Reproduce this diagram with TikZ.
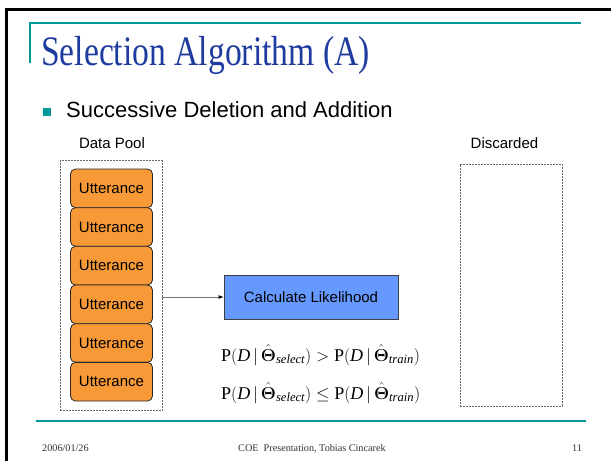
\documentclass[tikz,border=0pt]{standalone}
\usepackage{amsmath}
\usepackage{fontspec}
\setmainfont{Liberation Serif}
\newfontfamily\arialf{Liberation Sans}
\newfontfamily\titlef[FakeStretch=0.8]{Liberation Serif}
\usetikzlibrary{arrows.meta}
\definecolor{teal1}{RGB}{0,153,153}
\definecolor{titleblue}{RGB}{30,60,160}
\definecolor{uttorange}{RGB}{248,153,56}
\definecolor{calcblue}{RGB}{102,153,255}
\newcommand{\probsel}{\textrm{P}(\textit{D}\,|\,\hat{\boldsymbol{\Theta}}_{\textit{select}})}
\newcommand{\probtrn}{\textrm{P}(\textit{D}\,|\,\hat{\boldsymbol{\Theta}}_{\textit{train}})}
\begin{document}
\begin{tikzpicture}[x=1pt,y=-1pt,
  utt/.style={draw=black!85,fill=uttorange,rounded corners=5pt,minimum width=82pt,minimum height=38.67pt,inner sep=0pt,line width=0.8pt,font=\arialf\fontsize{15pt}{18pt}\selectfont},
  poolbox/.style={draw=black!60,dashed,dash pattern=on 2pt off 1pt,line width=0.6pt,inner sep=0pt},
  calcbox/.style={draw=black!75,fill=calcblue,line width=0.8pt,minimum width=174pt,minimum height=44pt,inner sep=0pt,font=\arialf\fontsize{15pt}{18pt}\selectfont},
  lbl/.style={inner sep=0pt,font=\arialf\fontsize{15pt}{18pt}\selectfont},
  foot/.style={inner sep=0pt,anchor=base west,font=\fontsize{10.2pt}{12pt}\selectfont,text=black!80},
  formula/.style={inner sep=0pt,anchor=west,font=\fontsize{18pt}{22pt}\selectfont},
  tealline/.style={draw=teal1,line width=1.6pt}
]
\useasboundingbox (0,0) rectangle (611,461);
\fill[white] (0,0) rectangle (611,461);
% frame
\draw[line width=3pt] (611,9.3) -- (6,9.3) -- (6,461);
% teal lines
\draw[tealline] (30,63) -- (30,23) -- (581,23);
\draw[tealline] (36,421) -- (586,421);
% title
\node[inner sep=0pt,anchor=base west,text=titleblue,font=\titlef\fontsize{42pt}{48pt}\selectfont] (title) at (41,65) {Selection Algorithm (A)};
% bullet
\node[fill=teal1,minimum size=8pt,inner sep=0pt] (bul) at (47,112) {};
\node[inner sep=0pt,anchor=base west,font=\arialf\fontsize{22pt}{26pt}\selectfont] (btext) at (66,117) {Successive Deletion and Addition};
% labels
\node[lbl,anchor=base] (dplbl) at (112,148) {Data Pool};
\node[lbl,anchor=base] (dclbl) at (504.5,148) {Discarded};
% pool
\node[poolbox,minimum width=102pt,minimum height=250pt] (pool) at (111,285.5) {};
\foreach \i in {0,...,5}{
  \node[utt] (u\i) at (111.5,{169+38.67*(\i+0.5)}) {Utterance};
}
% discarded
\node[poolbox,minimum width=102pt,minimum height=242pt] (disc) at (511,285) {};
% calc
\node[calcbox] (calc) at (311,297) {Calculate Likelihood};
\draw[draw=black!55,line width=0.8pt,-{Latex[color=black,length=5pt,width=4pt]}] (calc.west -| pool.east) -- (calc.west);
% formulas
\node[formula] (f1) at (221,355) {$\probsel > \probtrn$};
\node[formula] (f2) at (221,393) {$\probsel \le \probtrn$};
% footer
\node[foot] (fdate) at (42,451) {2006/01/26};
\node[foot] (fmid) at (238,451) {COE\ \ Presentation, Tobias Cincarek};
\node[foot] (fnum) at (572,451) {11};
\end{tikzpicture}
\end{document}
